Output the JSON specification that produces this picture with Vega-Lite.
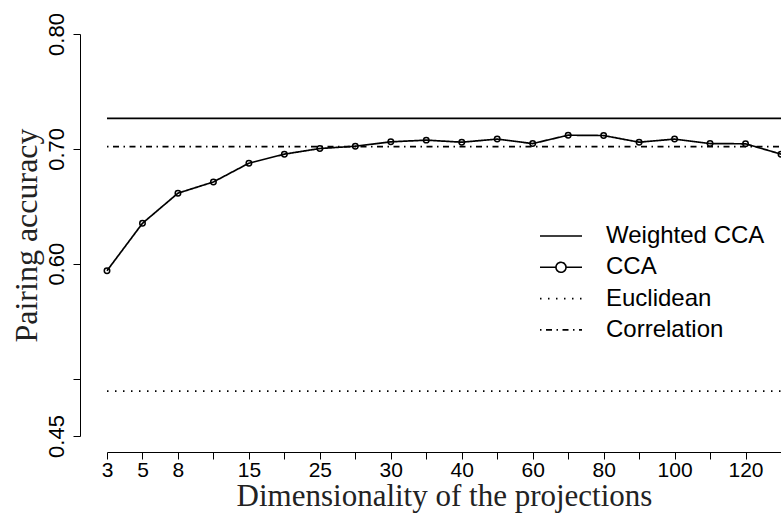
{
  "$schema": "https://vega.github.io/schema/vega-lite/v6.json",
  "width": 674,
  "height": 402,
  "autosize": "none",
  "padding": {"left": 107, "top": 34, "right": 0, "bottom": 77},
  "background": "white",
  "config": {
    "view": {"stroke": null},
    "axis": {
      "grid": false,
      "domainColor": "black",
      "domainWidth": 1,
      "tickColor": "black",
      "tickWidth": 1,
      "tickSize": 7,
      "labelColor": "black",
      "labelFont": "Liberation Sans",
      "labelFontSize": 22,
      "titleFont": "Liberation Serif",
      "titleFontSize": 32,
      "titleFontWeight": "normal",
      "titleColor": "#222222"
    }
  },
  "data": {
    "values": [
      {"series": "Weighted CCA", "x": 0, "y": 0.7265},
      {"series": "Weighted CCA", "x": 19, "y": 0.7265},
      {"series": "Euclidean", "x": 0, "y": 0.489},
      {"series": "Euclidean", "x": 19, "y": 0.489},
      {"series": "Correlation", "x": 0, "y": 0.702},
      {"series": "Correlation", "x": 19, "y": 0.702},
      {"series": "CCA", "x": 0, "y": 0.5939},
      {"series": "CCA", "x": 1, "y": 0.6352},
      {"series": "CCA", "x": 2, "y": 0.6614},
      {"series": "CCA", "x": 3, "y": 0.6712},
      {"series": "CCA", "x": 4, "y": 0.6875},
      {"series": "CCA", "x": 5, "y": 0.6954},
      {"series": "CCA", "x": 6, "y": 0.7003},
      {"series": "CCA", "x": 7, "y": 0.7023},
      {"series": "CCA", "x": 8, "y": 0.7061},
      {"series": "CCA", "x": 9, "y": 0.7076},
      {"series": "CCA", "x": 10, "y": 0.7058},
      {"series": "CCA", "x": 11, "y": 0.7085},
      {"series": "CCA", "x": 12, "y": 0.7046},
      {"series": "CCA", "x": 13, "y": 0.7119},
      {"series": "CCA", "x": 14, "y": 0.7116},
      {"series": "CCA", "x": 15, "y": 0.7058},
      {"series": "CCA", "x": 16, "y": 0.7085},
      {"series": "CCA", "x": 17, "y": 0.7046},
      {"series": "CCA", "x": 18, "y": 0.7044},
      {"series": "CCA", "x": 19, "y": 0.6954}
    ]
  },
  "encoding": {
    "x": {
      "field": "x",
      "type": "quantitative",
      "scale": {"domain": [0, 19], "nice": false, "zero": false},
      "axis": {
        "values": [0,1,2,3,4,5,6,7,8,9,10,11,12,13,14,15,16,17,18,19],
        "labelExpr": "['3','5','8','','15','','25','','30','','40','','60','','80','','100','','120',''][datum.value]",
        "offset": 16,
        "labelFontSize": 21,
        "labelPadding": 0,
        "labelFlush": false,
        "labelOverlap": false,
        "title": "Dimensionality of the projections",
        "titleFontSize": 31,
        "titlePadding": 1
      }
    },
    "y": {
      "field": "y",
      "type": "quantitative",
      "scale": {"domain": [0.45, 0.8], "nice": false, "zero": false},
      "axis": {
        "values": [0.45, 0.5, 0.6, 0.7, 0.8],
        "labelExpr": "datum.value == 0.5 ? '' : format(datum.value, '.2f')",
        "offset": 27,
        "labelAngle": -90,
        "labelAlign": "center",
        "labelBaseline": "bottom",
        "labelPadding": 5,
        "labelOverlap": false,
        "labelFlush": false,
        "title": "Pairing accuracy",
        "titlePadding": 2
      }
    }
  },
  "layer": [
    {
      "mark": {"type": "line", "strokeWidth": 1.7, "color": "black"},
      "encoding": {
        "strokeDash": {
          "field": "series",
          "type": "nominal",
          "scale": {
            "domain": ["Weighted CCA", "CCA", "Euclidean", "Correlation"],
            "range": [[1, 0], [1, 0], [1.5, 6.5], [1.5, 4.5, 6, 4.5]]
          },
          "legend": {
            "orient": "none",
            "legendX": 442,
            "legendY": 190,
            "title": null,
            "padding": 0,
            "symbolType": "M-2.1,0H2.1",
            "symbolSize": 400,
            "symbolStrokeWidth": 1.6,
            "symbolStrokeColor": "black",
            "symbolFillColor": "transparent",
            "labelFont": "Liberation Sans",
            "labelFontSize": 24,
            "labelColor": "black",
            "labelOffset": 33,
            "labelLimit": 300,
            "rowPadding": 7.3,
            "encode": {
              "symbols": {
                "update": {
                  "shape": {"signal": "datum.value === 'CCA' ? 'M-2.1,0H-0.5M0.5,0H2.1M0.5,0A0.5,0.5 0 1,1 -0.5,0A0.5,0.5 0 1,1 0.5,0' : 'M-2.1,0H2.1'"},
                  "fill": {"value": "transparent"},
                  "stroke": {"value": "black"}
                }
              }
            }
          }
        }
      }
    },
    {
      "transform": [{"filter": "datum.series == 'CCA'"}],
      "mark": {"type": "point", "shape": "circle", "filled": false, "size": 30, "strokeWidth": 1.5, "color": "black", "opacity": 1}
    }
  ]
}
